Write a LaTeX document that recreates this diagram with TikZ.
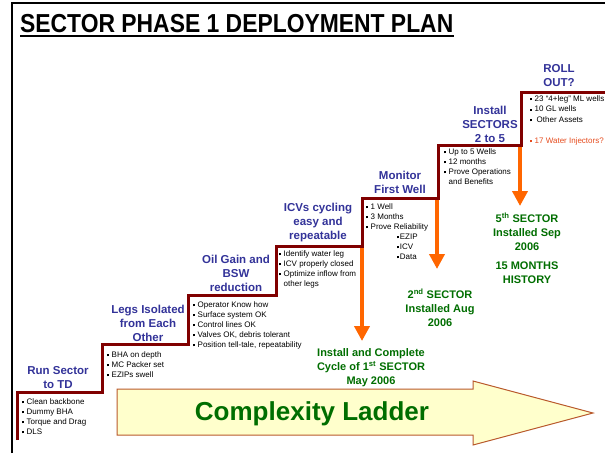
\documentclass[tikz,border=0pt]{standalone}
\usepackage{fontspec}
\setmainfont{Liberation Sans}
\usetikzlibrary{arrows.meta}
\definecolor{stair}{RGB}{128,0,0}
\definecolor{lblue}{RGB}{51,51,153}
\definecolor{lgreen}{RGB}{0,110,0}
\definecolor{arrorange}{RGB}{255,102,0}
\definecolor{injred}{RGB}{230,76,30}
\definecolor{ladfill}{RGB}{255,255,204}
\definecolor{ladedge}{RGB}{185,90,45}
\newcommand\sqb{\rule[0.7pt]{2.1pt}{2.1pt}\hspace{2.4pt}}
\newcommand\sqs{\rule[0.7pt]{2.1pt}{2.1pt}\hspace{0.5pt}}
\begin{document}
\begin{tikzpicture}[x=1pt,y=-1pt,
  steplabel/.style={font=\fontsize{11.5}{14}\selectfont\bfseries, text=lblue, align=center, anchor=north, inner sep=0},
  bullets/.style={font=\fontsize{8}{10}\selectfont, align=left, anchor=north west, inner sep=0},
  milestone/.style={font=\fontsize{11}{14}\selectfont\bfseries, text=lgreen, align=center, anchor=north, inner sep=0},
  downarrow/.style={draw=arrorange, line width=4.5pt, -{Triangle[width=15pt,length=15pt]}},
  stairline/.style={draw=stair, line width=3pt, line join=miter}]
\useasboundingbox (0,0) rectangle (605,453);
\fill[white] (0,0) rectangle (605,453);
% frame
\draw[line width=2pt] (12,453) -- (12,3) -- (605,3);
% title
\node[anchor=base west, inner sep=0, font=\fontsize{26}{30}\selectfont\bfseries] (title) at (20,32) {\scalebox{0.88}[1]{SECTOR PHASE 1 DEPLOYMENT PLAN}};
\draw[line width=2pt] (20,35.5) -- (454,35.5);
% complexity ladder arrow
\draw[ladedge, fill=ladfill, line width=1pt] (117,389) -- (473,389) -- (473,381) -- (593,413) -- (473,445) -- (473,435) -- (117,435) -- cycle;
\node[inner sep=0, font=\fontsize{26}{30}\selectfont\bfseries, text=lgreen] (ladder) at (312,414) {Complexity Ladder};
% orange arrows
\coordinate (a1s) at (362,246); \coordinate (a1e) at (362,341);
\coordinate (a2s) at (437,198); \coordinate (a2e) at (437,269);
\coordinate (a3s) at (520,145); \coordinate (a3e) at (520,206);
\draw[downarrow] (a1s) -- (a1e);
\draw[downarrow] (a2s) -- (a2e);
\draw[downarrow] (a3s) -- (a3e);
% staircase
\draw[stairline] (17,440) -- (17,392) -- (102,392) -- (102,344) -- (188,344) -- (188,295) -- (276,295) -- (276,246) -- (362,246) -- (362,198) -- (438,198) -- (438,145) -- (521,145) -- (521,92) -- (607,92);
% step labels
\node[steplabel] (s1) at (58,366) {Run Sector\\to TD};
\node[steplabel] (s2) at (148,305) {Legs Isolated\\from Each\\Other};
\node[steplabel] (s3) at (236,255) {Oil Gain and\\BSW\\reduction};
\node[steplabel] (s4) at (318,203) {ICVs cycling\\easy and\\repeatable};
\node[steplabel] (s5) at (400,171) {Monitor\\First Well};
\node[steplabel] (s6) at (490,106) {Install\\SECTORS\\2 to 5};
\node[steplabel] (s7) at (559,64) {ROLL\\OUT?};
% bullet lists
\node[bullets] (b1) at (22,398) {\sqb Clean backbone\\\sqb Dummy BHA\\\sqb Torque and Drag\\\sqb DLS};
\node[bullets] (b2) at (107,351) {\sqb BHA on depth\\\sqb MC Packer set\\\sqb EZIPs swell};
\node[bullets] (b3) at (193,301) {\sqb Operator Know how\\\sqb Surface system OK\\\sqb Control lines OK\\\sqb Valves OK, debris tolerant\\\sqb Position tell-tale, repeatability};
\node[bullets] (b4) at (279,250) {\sqb Identify water leg\\\sqb ICV properly closed\\\sqb Optimize inflow from\\\hspace*{4.5pt}other legs};
\node[bullets] (b5) at (366,203) {\sqb 1 Well\\\sqb 3 Months\\\sqb Prove Reliability\\\hspace*{31pt}\sqs EZIP\\\hspace*{31pt}\sqs ICV\\\hspace*{31pt}\sqs Data};
\node[bullets] (b6) at (444,148) {\sqb Up to 5 Wells\\\sqb 12 months\\\sqb Prove Operations\\\hspace*{4.5pt}and Benefits};
\node[bullets, font=\fontsize{8}{10.5}\selectfont] (b7) at (530,95) {\sqb 23 “4+leg” ML wells\\\sqb 10 GL wells\\\sqb \hspace{2pt}Other Assets};
\node[bullets, text=injred] (b7r) at (530,137) {\sqb 17 Water Injectors?};
% milestones
\node[milestone] (m1) at (371,348) {Install and Complete\\Cycle of 1\textsuperscript{st} SECTOR\\May 2006};
\node[milestone] (m2) at (440,289) {2\textsuperscript{nd} SECTOR\\Installed Aug\\2006};
\node[milestone] (m3) at (527,213) {5\textsuperscript{th} SECTOR\\Installed Sep\\2006};
\node[milestone] (m4) at (527,262) {15 MONTHS\\HISTORY};
\end{tikzpicture}
\end{document}
